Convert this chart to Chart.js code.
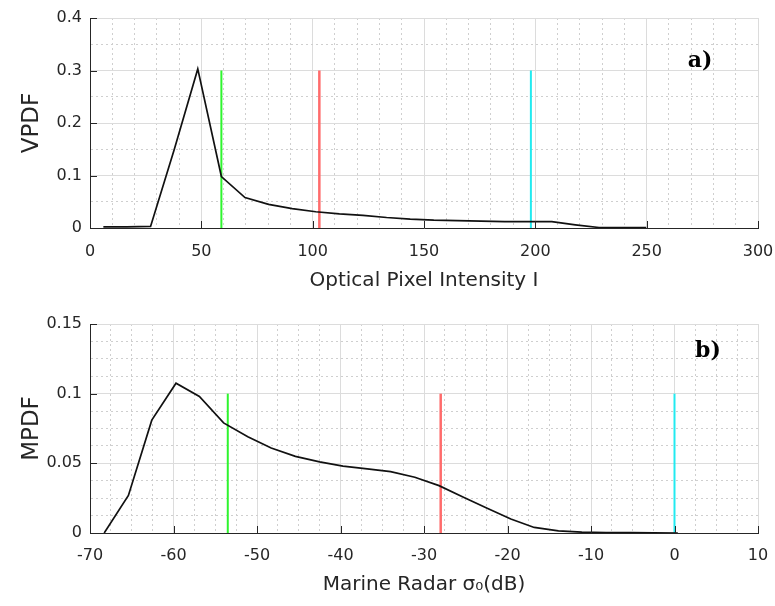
<!DOCTYPE html>
<html>
<head>
<meta charset="utf-8">
<script src="https://cdn.jsdelivr.net/npm/chart.js@4/dist/chart.umd.min.js"></script>
<style>
  html, body { margin: 0; padding: 0; background: #ffffff; }
  #wrapA { position: absolute; left: 0; top: 0; width: 775px; height: 300px; }
  #wrapB { position: absolute; left: 0; top: 300px; width: 775px; height: 306px; }
</style>
</head>
<body>
<div id="wrapA"><canvas id="chartA" width="775" height="300"></canvas></div>
<div id="wrapB"><canvas id="chartB" width="775" height="306"></canvas></div>
<script>
// ---------- Panel a) data ----------
const vpdfX = [6, 16.6, 27.2, 37.8, 48.4, 59, 69.6, 80.2, 90.8, 101.4, 112, 122.6, 133.2, 143.8, 154.4, 165, 175.6, 186.2, 196.8, 207.4, 218, 228.6, 239.2, 249.8];
const vpdfY = [0.002, 0.002, 0.003, 0.149, 0.303, 0.098, 0.058, 0.045, 0.037, 0.031, 0.027, 0.024, 0.020, 0.017, 0.015, 0.014, 0.013, 0.012, 0.012, 0.012, 0.006, 0.001, 0.001, 0.001];
const thresholdsA = [59, 103, 198];
const thresholdHeightA = 0.3;
const xTicksA = [0, 50, 100, 150, 200, 250, 300];
const yTicksA = [0, 0.1, 0.2, 0.3, 0.4];

// ---------- Panel b) data ----------
const mpdfX = [-68.3, -65.4, -62.6, -59.7, -56.9, -54.0, -51.1, -48.3, -45.4, -42.5, -39.7, -36.8, -34.0, -31.1, -28.2, -25.4, -22.5, -19.6, -16.8, -13.9, -11.1, -8.2, -5.3, -2.5, 0.4];
const mpdfY = [0, 0.027, 0.081, 0.1075, 0.098, 0.079, 0.069, 0.061, 0.055, 0.051, 0.048, 0.046, 0.044, 0.040, 0.034, 0.026, 0.018, 0.010, 0.004, 0.0015, 0.0006, 0.0003, 0.0002, 0.0001, 0];
const thresholdsB = [-53.5, -28, 0];
const thresholdHeightB = 0.1;
const xTicksB = [-70, -60, -50, -40, -30, -20, -10, 0, 10];
const yTicksB = [0, 0.05, 0.1, 0.15];

const thresholdColors = ['#2ef52e', '#ff6b6b', '#22eaf0'];
const thresholdWidths = [2, 2.5, 2];

function inList(v, list) { return list.some(t => Math.abs(t - v) < 1e-7); }
function fmt(v) { return String(+v.toFixed(4)); }

const TXT = '#262626';
const MAJOR = '#dcdcdc';
const MINOR = '#cfcfcf';

function makeScales(xr, yr) {
  const common = (ticksList) => ({
    grid: {
      drawTicks: false,
      color: ctx => (ctx.tick && inList(ctx.tick.value, ticksList)) ? MAJOR : MINOR,
      lineWidth: 1
    },
    border: {
      display: true, color: TXT, width: 1,
      dash: ctx => (ctx.tick && !inList(ctx.tick.value, ticksList)) ? [2, 3] : []
    }
  });
  const x = Object.assign(common(xr.ticks), {
    type: 'linear', min: xr.min, max: xr.max,
    ticks: {
      stepSize: xr.minor, autoSkip: false, maxRotation: 0, padding: xr.tickPad,
      color: TXT, font: { family: 'DejaVu Sans', size: 16 },
      callback: v => inList(v, xr.ticks) ? fmt(v) : ''
    },
    title: { display: true, text: xr.title, color: TXT, font: { family: 'DejaVu Sans', size: 20 }, padding: { top: 0, bottom: xr.titlePad } },
    afterFit: s => { s.height = xr.height; s.paddingLeft = 0; s.paddingRight = 0; }
  });
  const y = Object.assign(common(yr.ticks), {
    type: 'linear', min: yr.min, max: yr.max,
    ticks: {
      stepSize: yr.minor, autoSkip: false, padding: 8,
      color: TXT, font: { family: 'DejaVu Sans', size: 16 },
      callback: v => inList(v, yr.ticks) ? fmt(v) : ''
    },
    title: { display: true, text: yr.title, color: TXT, font: { family: 'DejaVu Sans', size: 23 }, padding: { top: 18, bottom: 0 } },
    afterFit: s => { s.width = 90; s.paddingTop = 0; s.paddingBottom = 0; }
  });
  return { x, y };
}

const inwardTicks = {
  id: 'inwardTicks',
  afterDatasetsDraw(chart, args, opts) {
    const { ctx, chartArea: a, scales } = chart;
    ctx.save();
    ctx.strokeStyle = TXT; ctx.lineWidth = 1;
    ctx.beginPath();
    opts.xTicks.forEach(v => {
      const px = Math.round(scales.x.getPixelForValue(v)) + 0.5;
      ctx.moveTo(px, a.bottom); ctx.lineTo(px, a.bottom - 7);
    });
    opts.yTicks.forEach(v => {
      const py = Math.round(scales.y.getPixelForValue(v)) + 0.5;
      ctx.moveTo(a.left, py); ctx.lineTo(a.left + 7, py);
    });
    ctx.stroke();
    // panel tag
    ctx.fillStyle = '#000';
    ctx.font = 'bold 22px "DejaVu Serif"';
    ctx.textAlign = 'center'; ctx.textBaseline = 'middle';
    ctx.fillText(opts.tag, a.right - opts.tagDx, a.top + opts.tagDy);
    ctx.restore();
  }
};

function buildDatasets(xs, ys, thr, h) {
  const ds = [{
    data: xs.map((x, i) => ({ x, y: ys[i] })),
    showLine: true, borderColor: '#111111', borderWidth: 1.7,
    pointRadius: 0, tension: 0, fill: false
  }];
  thr.forEach((t, i) => ds.push({
    data: [{ x: t, y: 0 }, { x: t, y: h }],
    showLine: true, borderColor: thresholdColors[i], borderWidth: thresholdWidths[i],
    pointRadius: 0, fill: false
  }));
  return ds;
}

function makeChart(id, datasets, scales, padding, pluginOpts) {
  return new Chart(document.getElementById(id), {
    type: 'scatter',
    data: { datasets },
    options: {
      responsive: false, animation: false, devicePixelRatio: 1,
      layout: { padding },
      plugins: { legend: { display: false }, tooltip: { enabled: false }, inwardTicks: pluginOpts },
      scales
    },
    plugins: [inwardTicks]
  });
}

makeChart('chartA',
  buildDatasets(vpdfX, vpdfY, thresholdsA, thresholdHeightA),
  makeScales(
    { min: 0, max: 300, minor: 10, ticks: xTicksA, title: 'Optical Pixel Intensity I', height: 72, titlePad: 7, tickPad: 14 },
    { min: 0, max: 0.4, minor: 0.05, ticks: yTicksA, title: 'VPDF' }
  ),
  { top: 18, right: 17, bottom: 0, left: 0 },
  { xTicks: xTicksA, yTicks: yTicksA, tag: 'a)', tagDx: 58, tagDy: 43 }
);

makeChart('chartB',
  buildDatasets(mpdfX, mpdfY, thresholdsB, thresholdHeightB),
  makeScales(
    { min: -70, max: 10, minor: 2.5, ticks: xTicksB, title: 'Marine Radar σ₀(dB)', height: 73, titlePad: 9, tickPad: 13 },
    { min: 0, max: 0.15, minor: 0.0125, ticks: yTicksB, title: 'MPDF' }
  ),
  { top: 24, right: 17, bottom: 0, left: 0 },
  { xTicks: xTicksB, yTicks: yTicksB, tag: 'b)', tagDx: 50, tagDy: 27 }
);
</script>
</body>
</html>
